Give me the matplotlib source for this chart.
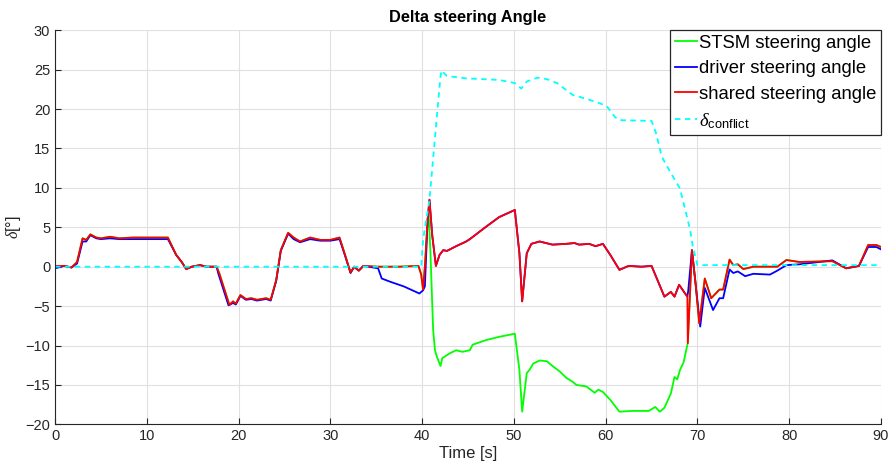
"""Delta steering angle: STSM vs driver vs shared"""

import matplotlib
matplotlib.use('Agg')
import matplotlib.pyplot as plt

plt.rcParams['font.family'] = ['Liberation Sans', 'DejaVu Sans']
plt.rcParams['mathtext.fontset'] = 'custom'
plt.rcParams['mathtext.rm'] = 'Liberation Sans'
plt.rcParams['mathtext.it'] = 'Liberation Serif:italic'

# shared steering angle (red)
t_shared = [0, 1, 1.8, 2.4, 3.0, 3.4, 3.85, 4.5, 5.0, 6.0, 7.0, 8.5, 10.0, 11.5, 12.3,
            13.2, 13.8, 14.3, 14.9, 15.8, 16.5, 17.6, 17.9, 19.0, 19.4, 19.7, 20.2, 20.8,
            21.4, 22.0, 23.0, 23.5, 24.1, 24.6, 25.4, 26.0, 26.7, 27.8, 28.9, 30.0, 31.0,
            31.6, 32.2, 32.6, 33.1, 33.6, 35.2, 37.5, 39.6, 39.9, 40.1, 40.3, 40.6, 40.8,
            41.1, 41.5, 41.9, 42.3, 42.7, 43.7, 44.8, 45.2, 47.0, 48.4, 50.1, 50.6, 50.9,
            51.4, 51.9, 52.8, 54.2, 55.7, 56.6, 57.1, 58.2, 58.9, 59.7, 60.5, 61.5, 62.5,
            63.9, 65.0, 66.4, 67.1, 67.5, 68.0, 68.6, 68.9, 68.95, 69.4, 69.8, 70.2, 70.8,
            71.5, 72.4, 72.8, 73.5, 73.9, 74.4, 75.0, 76.1, 78.7, 79.7, 81.1, 84.7, 86.2,
            87.6, 88.6, 89.5, 90.0]
shared = [0.1, 0.1, -0.1, 0.6, 3.6, 3.4, 4.1, 3.7, 3.6, 3.8, 3.6, 3.7, 3.7, 3.7, 3.7,
          1.5, 0.6, -0.3, 0.0, 0.2, 0.0, 0.0, -0.85, -4.85, -4.4, -4.7, -3.6, -4.1,
          -4.0, -4.2, -4.0, -4.2, -1.7, 2.1, 4.3, 3.7, 3.2, 3.7, 3.4, 3.4, 3.7,
          1.5, -0.75, 0.0, -0.5, 0.1, 0.0, 0.0, 0.1, -1.0, -2.9, 0.0, 6.0, 8.5,
          4.0, 0.1, 1.5, 2.1, 2.0, 2.6, 3.2, 3.5, 5.1, 6.3, 7.2, 1.7, -4.4,
          1.7, 2.9, 3.2, 2.8, 2.9, 3.0, 2.8, 2.9, 2.6, 2.9, 1.5, -0.4, 0.1,
          0.0, 0.1, -3.8, -3.2, -3.8, -2.3, -3.3, -3.8, -9.7, 2.1, -2.2, -7.2, -1.5,
          -4.0, -2.9, -2.9, 0.9, 0.2, 0.3, -0.3, 0.0, 0.0, 0.85, 0.6, 0.7, -0.2,
          0.1, 2.75, 2.75, 2.5]

# driver steering angle (blue)
t_driver = [0, 1, 1.8, 2.4, 3.0, 3.4, 3.85, 4.5, 5.0, 6.0, 7.0, 8.5, 10.0, 11.5, 12.3,
            13.2, 13.8, 14.3, 14.9, 15.8, 16.5, 17.6, 17.8, 18.9, 19.4, 19.7, 20.2, 20.8,
            21.4, 22.0, 23.0, 23.5, 24.1, 24.6, 25.4, 26.0, 26.7, 27.8, 28.9, 30.0, 31.0,
            31.6, 32.2, 32.6, 33.1, 33.6, 35.2, 35.6, 36.5, 38.0, 39.7, 40.1, 40.3, 40.6,
            40.8, 41.1, 41.5, 41.9, 42.3, 42.7, 43.7, 44.8, 45.2, 47.0, 48.4, 50.1, 50.6,
            50.9, 51.4, 51.9, 52.8, 54.2, 55.7, 56.6, 57.1, 58.2, 58.9, 59.7, 60.5, 61.5,
            62.5, 63.9, 65.0, 66.4, 67.1, 67.5, 68.0, 68.6, 68.9, 69.0, 69.4, 69.8, 70.3,
            70.8, 71.7, 72.4, 72.8, 73.5, 73.9, 74.4, 75.2, 76.1, 77.9, 78.7, 79.7, 81.1,
            84.7, 86.2, 87.6, 88.6, 89.5, 90.0]
driver = [-0.2, 0.1, -0.1, 0.4, 3.2, 3.2, 4.0, 3.6, 3.5, 3.6, 3.5, 3.5, 3.5, 3.5, 3.5,
          1.5, 0.6, -0.3, 0.0, 0.2, 0.0, 0.0, -0.9, -4.9, -4.6, -4.8, -3.7, -4.2,
          -4.1, -4.3, -4.1, -4.3, -1.8, 2.0, 4.2, 3.5, 3.1, 3.5, 3.3, 3.3, 3.5,
          1.4, -0.8, 0.0, -0.5, 0.1, -0.2, -1.5, -1.9, -2.5, -3.4, -3.0, -2.5, 6.0,
          8.5, 4.0, 0.1, 1.5, 2.1, 2.0, 2.6, 3.2, 3.5, 5.1, 6.3, 7.2, 1.7,
          -4.4, 1.7, 2.9, 3.2, 2.8, 2.9, 3.0, 2.8, 2.9, 2.6, 2.9, 1.5, -0.4,
          0.1, 0.0, 0.1, -3.8, -3.2, -3.8, -2.3, -3.3, -3.8, -3.0, 2.1, -2.2, -7.6,
          -2.7, -5.5, -4.0, -4.0, -0.35, -0.8, -0.6, -1.2, -0.9, -1.0, -0.5, 0.2, 0.3,
          0.8, -0.2, 0.1, 2.5, 2.5, 2.2]

# STSM steering angle (green)
t_stsm = [0, 1, 1.8, 2.4, 3.0, 3.4, 3.85, 4.5, 5.0, 6.0, 7.0, 8.5, 10.0, 11.5, 12.3,
          13.2, 13.8, 14.3, 14.9, 15.8, 16.5, 17.6, 17.9, 19.0, 19.4, 19.7, 20.2, 20.8,
          21.4, 22.0, 23.0, 23.5, 24.1, 24.6, 25.4, 26.0, 26.7, 27.8, 28.9, 30.0, 31.0,
          31.6, 32.2, 32.6, 33.1, 33.6, 35.2, 37.5, 39.6, 39.9, 40.1, 40.3, 40.5, 40.7,
          40.9, 41.2, 41.4, 41.6, 42.0, 42.2, 43.0, 43.7, 44.4, 45.2, 45.5, 47.0, 48.4,
          50.1, 50.6, 50.9, 51.4, 51.7, 52.1, 52.8, 53.6, 54.2, 55.0, 55.7, 56.4, 56.8,
          57.9, 58.8, 59.2, 59.7, 60.5, 61.5, 62.9, 64.7, 65.4, 65.9, 66.4, 67.1, 67.5,
          67.8, 68.1, 68.5, 68.9, 68.95, 69.4, 69.8, 70.2, 70.8, 71.5, 72.4, 72.8, 73.5,
          73.9, 74.4, 75.0, 76.1, 78.7, 79.7, 81.1, 84.7, 86.2, 87.6, 88.6, 89.5, 90.0]
stsm = [0.1, 0.1, -0.1, 0.6, 3.6, 3.4, 4.1, 3.7, 3.6, 3.8, 3.6, 3.7, 3.7, 3.7, 3.7,
        1.5, 0.6, -0.3, 0.0, 0.2, 0.0, 0.0, -0.85, -4.85, -4.4, -4.7, -3.6, -4.1,
        -4.0, -4.2, -4.0, -4.2, -1.7, 2.1, 4.3, 3.7, 3.2, 3.7, 3.4, 3.4, 3.7,
        1.5, -0.75, 0.0, -0.5, 0.1, 0.0, 0.0, 0.1, -1.0, -2.9, 0.0, 4.0, 7.0,
        2.0, -8.0, -10.6, -11.4, -12.6, -11.6, -11.0, -10.6, -10.8, -10.6, -9.9, -9.3, -8.9,
        -8.5, -13.1, -18.4, -13.5, -13.1, -12.3, -11.9, -12.0, -12.6, -13.3, -14.1, -14.6, -15.0,
        -15.2, -16.0, -15.6, -15.9, -16.9, -18.4, -18.3, -18.3, -17.8, -18.4, -17.9, -16.1, -14.0,
        -14.3, -13.1, -12.1, -9.9, -9.7, 2.1, -2.2, -7.2, -1.5, -4.0, -2.9, -2.9, 0.9,
        0.2, 0.3, -0.3, 0.0, 0.0, 0.85, 0.6, 0.7, -0.2, 0.1, 2.75, 2.75, 2.5]

# delta conflict (cyan dashed)
t_conf = [0, 39.9, 40.1, 40.8, 41.6, 42.0, 42.1, 42.7, 44.8, 48.4, 50.1, 50.8, 51.4,
          52.6, 53.6, 54.7, 56.4, 57.9, 59.2, 60.1, 61.0, 61.5, 65.0, 65.5, 66.1, 66.8,
          67.7, 68.1, 69.2, 69.5, 70.0, 90.0]
conflict = [0.0, 0.0, 3.4, 8.5, 19.0, 24.1, 24.9, 24.2, 23.9, 23.7, 23.3, 22.6, 23.5,
            24.0, 23.8, 23.3, 21.8, 21.3, 20.8, 20.4, 19.0, 18.6, 18.5, 16.9, 14.0, 12.5,
            10.7, 9.9, 4.7, 2.5, 0.2, 0.2]

fig = plt.figure(figsize=(8.89, 4.69), dpi=100)
ax = fig.add_axes([0.0619, 0.0953, 0.9291, 0.8401])

ax.plot(t_stsm, stsm, color=(0, 1, 0), lw=1.3, label='STSM steering angle')
ax.plot(t_driver, driver, color=(0, 0, 1), lw=1.3, label='driver steering angle')
ax.plot(t_shared, shared, color=(1, 0, 0), lw=1.3, label='shared steering angle')
ax.plot(t_conf, conflict, color=(0, 1, 1), lw=1.3, ls=(0, (3, 2.5)),
        label=r'$\delta_{\mathrm{conflict}}$')

ax.set_xlim(0, 90)
ax.set_ylim(-20, 30)
ax.set_xticks(range(0, 91, 10))
ax.set_yticks(range(-20, 31, 5))
ax.grid(True, color=(0.88, 0.88, 0.88), lw=0.8)
ax.set_axisbelow(True)
for side in ['top', 'right']:
    ax.spines[side].set_visible(False)
for side in ['left', 'bottom']:
    ax.spines[side].set_color((0.15, 0.15, 0.15))
ax.tick_params(direction='in', length=4, colors=(0.15, 0.15, 0.15), labelsize=10.5)

ax.set_xlabel('Time [s]', fontsize=12, color=(0.15, 0.15, 0.15), labelpad=2)
ax.set_ylabel(r'$\delta$[°]', fontsize=11.5, color=(0.15, 0.15, 0.15), labelpad=2)
ax.set_title('Delta steering Angle', fontsize=11.8, fontweight='bold', pad=6)

leg = ax.legend(loc='upper right', fontsize=13.3, handlelength=1.2, handletextpad=0.1,
                borderaxespad=0, borderpad=0.25, labelspacing=0.45, fancybox=False,
                framealpha=1, edgecolor=(0.15, 0.15, 0.15))
leg.get_frame().set_linewidth(0.9)

fig.savefig('out.png', dpi=100)
